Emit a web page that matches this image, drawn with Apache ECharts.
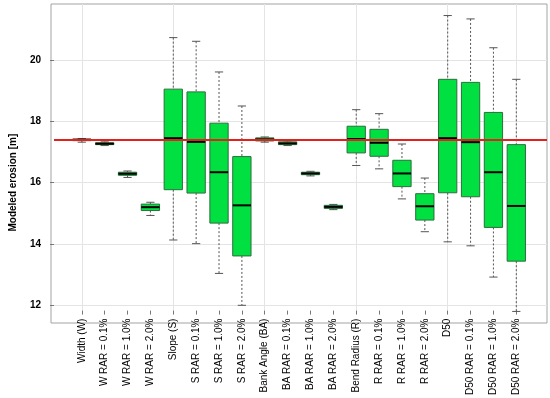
<!DOCTYPE html>
<html>
<head>
<meta charset="utf-8">
<script src="https://cdn.jsdelivr.net/npm/echarts@6/dist/echarts.min.js"></script>
<style>html,body{margin:0;padding:0;background:#fff;}#c{width:550px;height:398px;}</style>
</head>
<body>
<div id="c"></div>
<script>
var categories = ['Width (W)','W RAR = 0.1%','W RAR = 1.0%','W RAR = 2.0%','Slope (S)','S RAR = 0.1%','S RAR = 1.0%','S RAR = 2.0%','Bank Angle (BA)','BA RAR = 0.1%','BA RAR = 1.0%','BA RAR = 2.0%','Bend Radius (R)','R RAR = 0.1%','R RAR = 1.0%','R RAR = 2.0%','D50','D50 RAR = 0.1%','D50 RAR = 1.0%','D50 RAR = 2.0%'];
var whiskerLow  = [17.32, 17.21, 16.17, 14.93, 14.13, 14.01, 13.04, 12.00, 17.32, 17.21, 16.22, 15.12, 16.56, 16.45, 15.47, 14.40, 14.07, 13.94, 12.92, 11.80];
var q1          = [17.37, 17.24, 16.24, 15.09, 15.77, 15.66, 14.68, 13.61, 17.36, 17.24, 16.26, 15.16, 16.97, 16.86, 15.87, 14.78, 15.67, 15.54, 14.54, 13.44];
var median      = [17.40, 17.27, 16.29, 15.20, 17.45, 17.33, 16.34, 15.26, 17.41, 17.28, 16.30, 15.21, 17.42, 17.30, 16.30, 15.23, 17.45, 17.32, 16.34, 15.24];
var q3          = [17.42, 17.30, 16.34, 15.30, 19.05, 18.96, 17.94, 16.85, 17.46, 17.33, 16.34, 15.26, 17.84, 17.74, 16.73, 15.64, 19.37, 19.27, 18.29, 17.24];
var whiskerHigh = [17.44, 17.33, 16.38, 15.36, 20.73, 20.61, 19.61, 18.50, 17.49, 17.36, 16.37, 15.29, 18.38, 18.25, 17.26, 16.15, 21.45, 21.34, 20.40, 19.37];
var refValue = 17.4;
var yTicksMin = 12, yTicksMax = 20, yTickStep = 2;
var yName = 'Modeled erosion [m]';

var FONT = "'Liberation Sans', Arial, sans-serif";
var boxData = categories.map(function (c, i) {
  return [i, whiskerLow[i], q1[i], median[i], q3[i], whiskerHigh[i]];
});

var chart = echarts.init(document.getElementById('c'), null, {renderer: 'canvas'});
chart.setOption({
  animation: false,
  backgroundColor: '#fff',
  grid: [
    {left: 51, right: 3, top: 4, bottom: 75, show: true, borderColor: '#a3a3a3', borderWidth: 1, backgroundColor: 'transparent'},
    {left: 51, right: 3, top: 60, bottom: 92.7},
    {left: 81.8, right: 33.7, top: 4, bottom: 75},
    {left: 81.8, right: 33.7, top: 60, bottom: 92.7}
  ],
  xAxis: [
    {gridIndex: 0, type: 'value', show: false, min: 0, max: 1},
    {gridIndex: 1, type: 'value', show: false, min: 0, max: 1},
    {gridIndex: 2, type: 'category', data: categories, boundaryGap: false,
     axisLine: {show: false},
     axisTick: {show: true, interval: 0, length: 4, lineStyle: {color: '#777'}},
     axisLabel: {interval: 0, rotate: 90, fontSize: 10, color: '#000', margin: 8, fontFamily: FONT},
     splitLine: {show: true, interval: 3, lineStyle: {color: '#e4e4e4', width: 1}}},
    {gridIndex: 3, type: 'category', data: categories, boundaryGap: false, show: false}
  ],
  yAxis: [
    {gridIndex: 0, type: 'value', show: false, min: 0, max: 1},
    {gridIndex: 1, type: 'value', min: yTicksMin, max: yTicksMax, interval: yTickStep,
     name: yName, nameLocation: 'middle', nameGap: 36,
     nameTextStyle: {fontSize: 10, fontWeight: 'bold', color: '#000', fontFamily: FONT},
     axisLine: {show: false},
     axisTick: {show: true, length: 4, lineStyle: {color: '#777'}},
     axisLabel: {fontSize: 10, fontWeight: 'bold', color: '#000', margin: 13, fontFamily: FONT},
     splitLine: {show: true, lineStyle: {color: '#e4e4e4', width: 1}}},
    {gridIndex: 2, type: 'value', show: false, min: 0, max: 1},
    {gridIndex: 3, type: 'value', show: false, min: yTicksMin, max: yTicksMax}
  ],
  series: [
    {
      type: 'line', xAxisIndex: 1, yAxisIndex: 1, data: [], z: 2,
      markLine: {silent: true, symbol: 'none', label: {show: false},
        lineStyle: {color: '#e3201b', width: 2, type: 'solid'},
        data: [{yAxis: refValue}]}
    },
    {
      type: 'custom', xAxisIndex: 3, yAxisIndex: 3, clip: false, z: 3,
      data: boxData,
      encode: {x: 0, y: [1, 2, 3, 4, 5]},
      renderItem: function (params, api) {
        var x = api.value(0);
        var pLo = api.coord([x, api.value(1)]);
        var pQ1 = api.coord([x, api.value(2)]);
        var pMed = api.coord([x, api.value(3)]);
        var pQ3 = api.coord([x, api.value(4)]);
        var pHi = api.coord([x, api.value(5)]);
        var band = api.size([1, 0])[0];
        var bw = band * 0.8;
        var cw = band * 0.36;
        var cx = pMed[0];
        var dashStyle = {stroke: '#555', lineWidth: 1, lineDash: [2, 2]};
        var capStyle = {stroke: '#555', lineWidth: 1};
        return {
          type: 'group',
          children: [
            {type: 'line', shape: {x1: cx, y1: pHi[1], x2: cx, y2: pQ3[1]}, style: dashStyle},
            {type: 'line', shape: {x1: cx, y1: pQ1[1], x2: cx, y2: pLo[1]}, style: dashStyle},
            {type: 'line', shape: {x1: cx - cw / 2, y1: pHi[1], x2: cx + cw / 2, y2: pHi[1]}, style: capStyle},
            {type: 'line', shape: {x1: cx - cw / 2, y1: pLo[1], x2: cx + cw / 2, y2: pLo[1]}, style: capStyle},
            {type: 'rect', shape: {x: cx - bw / 2, y: pQ3[1], width: bw, height: pQ1[1] - pQ3[1]},
             style: {fill: '#00e040', stroke: '#2c6e3c', lineWidth: 1}},
            {type: 'line', shape: {x1: cx - bw / 2, y1: pMed[1], x2: cx + bw / 2, y2: pMed[1]},
             style: {stroke: '#000', lineWidth: 2}}
          ]
        };
      }
    }
  ]
});
</script>
</body>
</html>
